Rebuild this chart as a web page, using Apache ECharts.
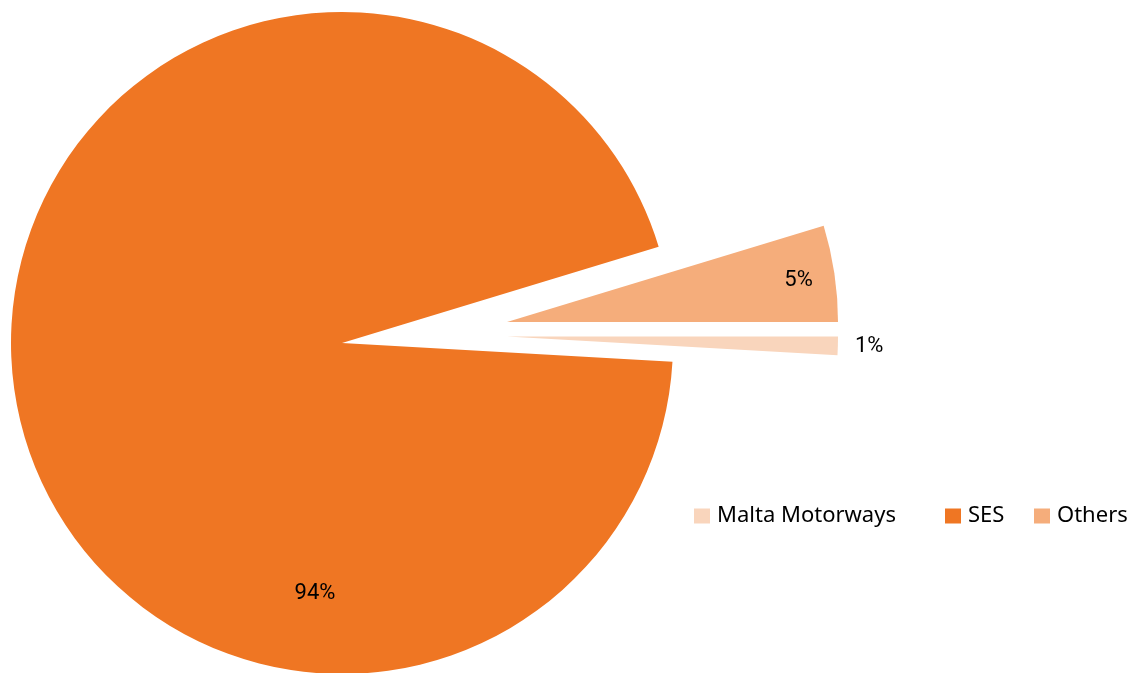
<!DOCTYPE html>
<html>
<head>
<meta charset="utf-8">
<script src="https://cdn.jsdelivr.net/npm/echarts@6/dist/echarts.min.js"></script>
<style>
  html, body { margin: 0; padding: 0; background: #ffffff; }
  #chart { width: 1135px; height: 673px; }
</style>
</head>
<body>
<div id="chart"></div>
<script>
// ---- data ----
const categories = ['Malta Motorways', 'SES', 'Others'];
const shares = [0.9, 94.4, 4.7];

// ---- styling / layout (not data) ----
const colors = ['#F9D5BC', '#EF7623', '#F5AD7B'];
const sliceCenters = [[507, 336.5], [342, 343], [507, 322]];
const labelAnchors = [
  { x: 855, y: 346.5, align: 'left' },
  { x: 315, y: 593.5, align: 'center' },
  { x: 798.5, y: 280.5, align: 'center' }
];
const legendLefts = [694, 945, 1034];
const pieRadius = 331;

const chart = echarts.init(document.getElementById('chart'), null, { renderer: 'canvas' });

const series = categories.map(function (owner, k) {
  return {
    type: 'pie',
    name: owner,
    center: sliceCenters[k],
    radius: [0, pieRadius],
    startAngle: 0,
    clockwise: true,
    percentPrecision: 0,
    avoidLabelOverlap: false,
    silent: true,
    animation: false,
    emphasis: { disabled: true },
    labelLine: { show: false },
    label: {
      show: true,
      position: 'inside',
      formatter: '{d}%',
      fontFamily: 'Roboto',
      fontSize: 22,
      color: '#000000'
    },
    labelLayout: function () {
      const a = labelAnchors[k];
      return { x: a.x, y: a.y, align: a.align, verticalAlign: 'middle' };
    },
    data: categories.map(function (name, i) {
      const mine = i === k;
      return {
        name: name,
        value: shares[i],
        itemStyle: { color: colors[i], opacity: mine ? 1 : 0 },
        label: { show: mine }
      };
    })
  };
});

const legends = categories.map(function (name, i) {
  return {
    left: legendLefts[i],
    top: 505,
    orient: 'horizontal',
    itemWidth: 16,
    itemHeight: 15,
    itemGap: 10,
    padding: 0,
    selectedMode: false,
    icon: 'rect',
    textStyle: {
      fontFamily: 'Noto Sans',
      fontSize: 22,
      color: '#000000',
      padding: [0, 0, 0, 2]
    },
    data: [{ name: name, itemStyle: { color: colors[i], opacity: 1 } }]
  };
});

chart.setOption({
  backgroundColor: '#ffffff',
  animation: false,
  legend: legends,
  series: series
});
</script>
</body>
</html>
